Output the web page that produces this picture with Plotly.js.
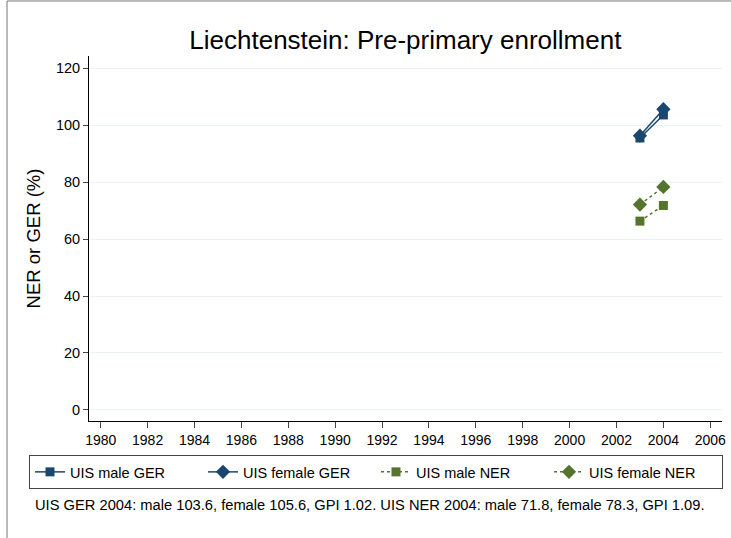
<!DOCTYPE html>
<html>
<head>
<meta charset="utf-8">
<script src="https://cdn.plot.ly/plotly-3.0.1.min.js"></script>
<style>html,body{margin:0;padding:0;background:#fff}#chart{width:731px;height:538px}</style>
</head>
<body>
<div id="chart"></div>
<script>
const years = [2003, 2004];
const maleGER = [95.5, 103.6];
const femaleGER = [96.3, 105.6];
const maleNER = [66.3, 71.8];
const femaleNER = [72.1, 78.3];
const xTicks = [1980,1982,1984,1986,1988,1990,1992,1994,1996,1998,2000,2002,2004,2006];
const yTicks = [0,20,40,60,80,100,120];
const titleText = "Liechtenstein: Pre-primary enrollment";
const yTitle = "NER or GER (%)";
const noteText = "UIS GER 2004: male 103.6, female 105.6, GPI 1.02. UIS NER 2004: male 71.8, female 78.3, GPI 1.09.";

const navy = "#1a476f", green = "#55752f";
function tr(name, y, color, sym, dash) {
  return {x: years, y: y, name: name, type: "scatter", mode: "lines+markers",
    line: {color: color, width: 1.5, dash: dash},
    marker: {color: color, symbol: sym, size: sym === "diamond" ? 11 : 9}};
}
const data = [
  tr("UIS male GER", maleGER, navy, "square", "solid"),
  tr("UIS female GER", femaleGER, navy, "diamond", "solid"),
  tr("UIS male NER", maleNER, green, "square", "3px,3px"),
  tr("UIS female NER", femaleNER, green, "diamond", "3px,3px")
];
const layout = {
  width: 731, height: 538,
  margin: {l: 89, r: 9, t: 56, b: 117},
  paper_bgcolor: "#fff", plot_bgcolor: "#fff",
  font: {family: "Liberation Sans, Arial, sans-serif", color: "#000", size: 14},
  title: {text: titleText, font: {size: 26, color: "#000"}, x: 0.5545, xanchor: "center", y: 0.925, yanchor: "middle"},
  xaxis: {range: [1979.5, 2006.5], tickvals: xTicks, ticks: "outside", ticklen: 6, tickcolor: "#444",
    tickfont: {size: 14},
    showgrid: false, zeroline: false, showline: true, linecolor: "#000", linewidth: 1, fixedrange: true},
  yaxis: {range: [-3.9, 124.3], tickvals: yTicks, ticks: "outside", ticklen: 5, tickcolor: "#444",
    tickfont: {size: 14.5},
    showgrid: true, gridcolor: "#eaf2f3", gridwidth: 1, zeroline: false, showline: true, linecolor: "#000", linewidth: 1,
    title: {text: yTitle, font: {size: 18.5}, standoff: 10}},
  showlegend: true,
  legend: {orientation: "h", x: -0.0948, xanchor: "left", y: -0.093, yanchor: "top",
    bordercolor: "#444", borderwidth: 1, font: {size: 14.5}, entrywidth: 128, entrywidthmode: "pixels",
    traceorder: "normal"},
  annotations: [{text: noteText, xref: "paper", yref: "paper", x: -0.088, y: -0.23, xanchor: "left", yanchor: "middle",
    showarrow: false, font: {size: 14.7}}],
  shapes: [{type: "rect", xref: "paper", yref: "paper", x0: -0.1295, x1: 1.06, y0: -0.4, y1: 1.1507,
    line: {color: "#777", width: 1}, fillcolor: "rgba(0,0,0,0)", layer: "below"}]
};
Plotly.newPlot("chart", data, layout, {displayModeBar: false, staticPlot: true});
</script>
</body>
</html>
